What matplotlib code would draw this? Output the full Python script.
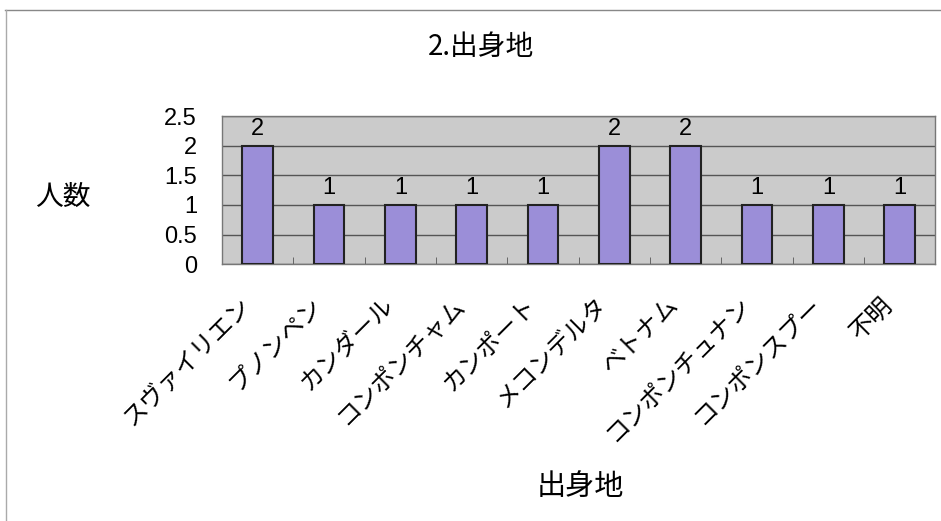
import matplotlib.pyplot as plt
import matplotlib.transforms as mtransforms
import numpy as np

plt.rcParams['font.family'] = ['Noto Sans CJK JP', 'DejaVu Sans']

# データ
places = ["スヴァイリエン", "プノンペン", "カンダール", "コンポンチャム", "カンポート",
          "メコンデルタ", "ベトナム", "コンポンチュナン", "コンポンスプー", "不明"]
counts = [2, 1, 1, 1, 1, 2, 2, 1, 1, 1]
yticks = [0, 0.5, 1, 1.5, 2, 2.5]

num_font = ["Liberation Sans", "DejaVu Sans"]

fig = plt.figure(figsize=(9.41, 5.21), dpi=100)
ax = fig.add_axes([0.236, 0.493, 0.758, 0.284])

x = np.arange(len(places))
ax.set_facecolor("#cbcbcb")
ax.bar(x, counts, width=0.43, color="#9b8ed8", edgecolor="#222222", linewidth=1.5, zorder=3)

for xi, c in zip(x, counts):
    ax.text(xi, c + 0.1, str(c), ha="center", va="bottom", fontsize=17,
            family=num_font, zorder=4)

ax.set_ylim(0, 2.5)
ax.set_xlim(-0.5, len(places) - 0.5)
ax.set_yticks(yticks)
ax.set_yticklabels([f"{v:g}" for v in yticks], fontsize=17, family=num_font)
ax.yaxis.grid(True, color="#555555", linewidth=1.0, zorder=1)
ax.tick_params(axis="y", length=0, pad=18)

ax.set_xticks(x)
ax.set_xticklabels(places, rotation=45, ha="right", rotation_mode="anchor", fontsize=17.5)
ax.set_xticks(np.arange(0.5, len(places) - 0.5, 1), minor=True)
ax.tick_params(axis="x", which="major", length=0, pad=20)
ax.tick_params(axis="x", which="minor", length=5, direction="in", color="#555555")

# ラベルを少し左へ
shift = mtransforms.ScaledTranslation(-0.2, 0, fig.dpi_scale_trans)
for lab in ax.get_xticklabels():
    lab.set_transform(lab.get_transform() + shift)

for s in ax.spines.values():
    s.set_color("#777777")
    s.set_linewidth(1.0)

fig.text(0.511, 0.91, "2.出身地", ha="center", va="center", fontsize=20)
fig.text(0.067, 0.622, "人数", ha="center", va="center", fontsize=20)
fig.text(0.617, 0.065, "出身地", ha="center", va="center", fontsize=21)

# 外枠
fig.add_artist(plt.Line2D([0.005, 1.0], [0.98, 0.98], color="#888888", linewidth=1.0))
fig.add_artist(plt.Line2D([0.006, 0.006], [0.0, 0.98], color="#aaaaaa", linewidth=1.0))

fig.savefig("out.png", dpi=100)
